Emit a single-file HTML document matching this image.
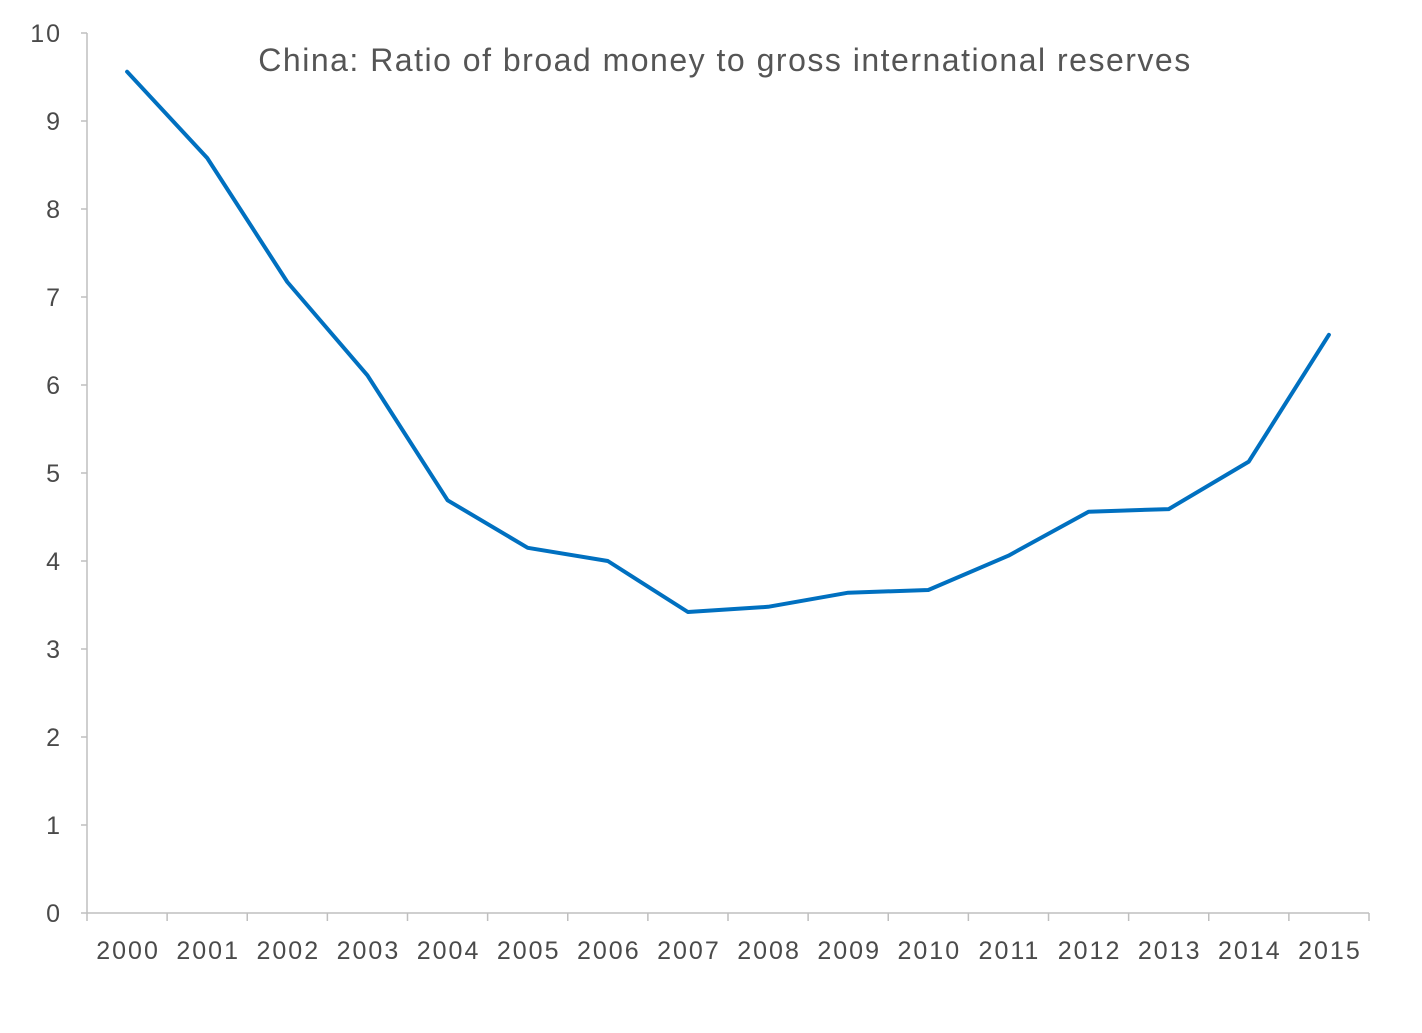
<!DOCTYPE html>
<html><head><meta charset="utf-8"><style>
html,body{margin:0;padding:0;background:#fff;}
svg{display:block;font-family:"Liberation Sans",sans-serif;}
</style></head><body>
<svg id="chart" width="1422" height="1033" viewBox="0 0 1422 1033">
<text x="725" y="71" text-anchor="middle" font-size="32" letter-spacing="1.5" fill="#555555">China: Ratio of broad money to gross international reserves</text>
<g id="axes"></g>
<g id="series"></g>
</svg>
<script>
const categories = ["2000","2001","2002","2003","2004","2005","2006","2007","2008","2009","2010","2011","2012","2013","2014","2015"];
const values = [9.56,8.58,7.17,6.11,4.69,4.15,4.0,3.42,3.48,3.64,3.67,4.06,4.56,4.59,5.13,6.57];
const yTicks = [0,1,2,3,4,5,6,7,8,9,10];

const ns = "http://www.w3.org/2000/svg";
const x0 = 87, x1 = 1369, yBase = 913, yTop = 33, yMax = 10;
const band = (x1 - x0) / categories.length;
const xPos = i => x0 + band * (i + 0.5);
const yPos = v => yBase - (v / yMax) * (yBase - yTop);
function mk(tag, attrs, parent) {
  const e = document.createElementNS(ns, tag);
  for (const k in attrs) e.setAttribute(k, attrs[k]);
  parent.appendChild(e);
  return e;
}
const axes = document.getElementById("axes");
const series = document.getElementById("series");
const axisColor = "#bfbfbf";
const labelColor = "#4a4a4a";

const yAxis = mk("line", {x1: x0, y1: yTop, x2: x0, y2: yBase, stroke: axisColor, "stroke-width": 1.5}, axes);


const xAxis = mk("line", {x1: x0, y1: yBase, x2: x1, y2: yBase, stroke: axisColor, "stroke-width": 1.5}, axes);



yTicks.forEach(t => {
  const y = yPos(t);
  const tk = mk("line", {x1: x0 - 6, y1: y, x2: x0, y2: y, stroke: axisColor, "stroke-width": 1.5}, axes);
  
  
  const lb = mk("text", {x: 62, y: y + 9, "text-anchor": "end", "font-size": 25, "letter-spacing": 2, fill: labelColor}, axes);
  lb.textContent = t;
  
  
});

for (let i = 0; i <= categories.length; i++) {
  const x = x0 + band * i;
  const tk = mk("line", {x1: x, y1: yBase, x2: x, y2: yBase + 8, stroke: axisColor, "stroke-width": 1.5}, axes);
  
  
}
categories.forEach((c, i) => {
  const lb = mk("text", {x: xPos(i) + 1, y: 959, "text-anchor": "middle", "font-size": 25, "letter-spacing": 2, fill: labelColor}, axes);
  lb.textContent = c;
  
  
});

const d = values.map((v, i) => (i ? "L" : "M") + xPos(i).toFixed(1) + "," + yPos(v).toFixed(1)).join(" ");
const path = mk("path", {d: d, fill: "none", stroke: "#0070c0", "stroke-width": 4, "stroke-linejoin": "round", "stroke-linecap": "round"}, series);


</script>
</body></html>
